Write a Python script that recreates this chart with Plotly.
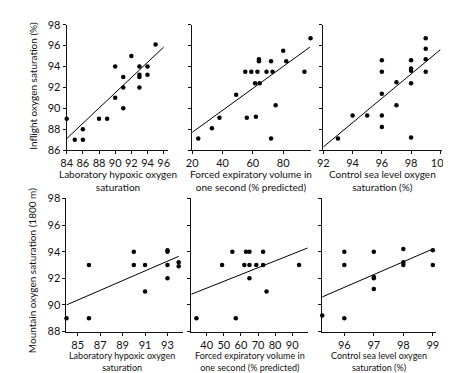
import plotly.graph_objects as go

# ---- data ----
lab_top = [84, 85, 86, 86, 88, 89, 90, 90, 91, 91, 91, 92, 93, 93, 93, 93, 94, 94, 95]
inflight_lab = [89, 87, 88, 87, 89, 89, 94, 91, 93, 92, 90, 95, 94, 93.2, 93, 92, 94, 93.2, 96.1]

fev_top = [24, 33, 38, 49, 55, 56, 59, 61.5, 62, 63, 64, 64, 64.5, 69, 72, 72, 73, 75, 80, 82, 94, 98]
inflight_fev = [87.1, 88.1, 89.1, 91.3, 93.5, 89.1, 93.5, 92.4, 89.2, 93.5, 94.7, 94.5, 92.4,
                93.5, 94.5, 87.1, 93.5, 90.3, 95.5, 94.5, 93.5, 96.7]

sea_top = [93, 94, 95, 96, 96, 96, 96, 96, 97, 97, 98, 98, 98, 98, 98, 99, 99, 99, 99]
inflight_sea = [87.1, 89.3, 89.3, 94.6, 93.5, 91.4, 89.3, 88.2, 92.5, 90.3, 94.6, 93.8, 93.6,
                92.4, 87.2, 96.7, 95.7, 94.7, 93.5]

lab_bot = [84, 86, 86, 90, 90, 91, 91, 93, 93, 93, 93, 94, 94]
mountain_lab = [89, 93, 89, 94, 93, 93, 91, 94.1, 94, 93, 92, 93.2, 92.9]

fev_bot = [34, 49, 55, 57, 62, 63, 65, 65, 65, 69, 73, 73, 75, 94]
mountain_fev = [89, 93, 94, 89, 93, 94, 92, 94, 93, 93, 94, 93, 91, 93]

sea_bot = [95.25, 96, 96, 96, 97, 97, 97, 97, 98, 98, 98, 99, 99]
mountain_sea = [89.2, 89, 94, 93, 94, 92.1, 92, 91.2, 94.2, 93.2, 93, 94.1, 93]

fit_lab_top_x, fit_lab_top_y = [84, 96], [87.1, 95.85]
fit_fev_top_x, fit_fev_top_y = [20, 97.6], [87.7, 95.85]
fit_sea_top_x, fit_sea_top_y = [92, 100], [86.3, 95.6]
fit_lab_bot_x, fit_lab_bot_y = [84, 94], [90.0, 93.65]
fit_fev_bot_x, fit_fev_bot_y = [31, 99.5], [90.8, 94.3]
fit_sea_bot_x, fit_sea_bot_y = [95.25, 99], [90.6, 94.2]

x_titles = ["Laboratory hypoxic oxygen<br>saturation",
            "Forced expiratory volume in<br>one second (% predicted)",
            "Control sea level oxygen<br>saturation (%)"]
y_title_top = "Inflight oxygen saturation (%)"
y_title_bot = "Mountain oxygen saturation (1800 m)"

W, H = 451, 373
FONT = "Lato"
INK = "#111111"

def fx(p):
    return p / W

def fy(p):
    return 1 - p / H

panels = [
    (lab_top, inflight_lab, fit_lab_top_x, fit_lab_top_y, (54.5, 159), [84, 96.5], (10, 140), [86, 98],
     [84, 86, 88, 90, 92, 94, 96], True),
    (fev_top, inflight_fev, fit_fev_top_x, fit_fev_top_y, (184.3, 307.5), [20, 98.5], (10, 140), [86, 98],
     [20, 40, 60, 80], False),
    (sea_top, inflight_sea, fit_sea_top_x, fit_sea_top_y, (320, 442.5), [92, 100.1], (10, 140), [86, 98],
     [92, 94, 96, 98, 100], False),
    (lab_bot, mountain_lab, fit_lab_bot_x, fit_lab_bot_y, (54.3, 175), [84, 94.4], (190, 328), [88, 98],
     [85, 87, 89, 91, 93], True),
    (fev_bot, mountain_fev, fit_fev_bot_x, fit_fev_bot_y, (183.4, 303.7), [31, 99], (190, 328), [88, 98],
     [40, 50, 60, 70, 80, 90], False),
    (sea_bot, mountain_sea, fit_sea_bot_x, fit_sea_bot_y, (318.8, 436.3), [95.25, 99.1], (190, 328), [88, 98],
     [96, 97, 98, 99], False),
]

fig = go.Figure()
layout = {}
for i, (xs, ys, fxs, fys, xd, xr, yd, yr, xtv, ylab) in enumerate(panels):
    n = "" if i == 0 else str(i + 1)
    fig.add_trace(go.Scatter(x=fxs, y=fys, mode="lines", line=dict(color="black", width=1),
                             xaxis="x" + n, yaxis="y" + n, showlegend=False, hoverinfo="skip",
                             cliponaxis=False))
    fig.add_trace(go.Scatter(x=xs, y=ys, mode="markers", marker=dict(color="black", size=4.5),
                             xaxis="x" + n, yaxis="y" + n, showlegend=False, cliponaxis=False))
    layout["xaxis" + n] = dict(domain=[fx(xd[0]), fx(xd[1])], range=xr, anchor="y" + n,
                               tickmode="array", tickvals=xtv, ticks="outside", ticklen=3,
                               tickcolor=INK, showline=True, linecolor=INK, linewidth=1,
                               mirror=False, showgrid=False, zeroline=False,
                               tickfont=dict(family=FONT, size=11, color=INK))
    yt = list(range(int(yr[0]), int(yr[1]) + 1, 2))
    layout["yaxis" + n] = dict(domain=[fy(yd[1]), fy(yd[0])], range=yr, anchor="x" + n,
                               tickmode="array", tickvals=yt, ticks="outside", ticklen=3,
                               tickcolor=INK, showline=True, linecolor=INK, linewidth=1,
                               mirror=False, showgrid=False, zeroline=False, showticklabels=ylab,
                               tickfont=dict(family=FONT, size=11, color=INK))

annotations = []
title_pos = [(108, 157, 10), (245, 157, 10), (381, 157, 10),
             (112, 346, 9), (244, 346, 9), (378, 346, 9)]
for i, (cx, ty, fs) in enumerate(title_pos):
    annotations.append(dict(text=x_titles[i % 3], x=fx(cx), y=fy(ty), xref="paper", yref="paper",
                            xanchor="center", yanchor="top", showarrow=False, align="center",
                            borderpad=0, font=dict(family=FONT, size=fs, color=INK)))
annotations.append(dict(text=y_title_top, x=fx(20), y=fy(73), xref="paper", yref="paper",
                        xanchor="center", yanchor="middle", textangle=-90, showarrow=False,
                        font=dict(family=FONT, size=10, color=INK)))
annotations.append(dict(text=y_title_bot, x=fx(18), y=fy(265), xref="paper", yref="paper",
                        xanchor="center", yanchor="middle", textangle=-90, showarrow=False,
                        font=dict(family=FONT, size=10, color=INK)))

fig.update_layout(width=W, height=H, margin=dict(l=0, r=0, t=0, b=0),
                  paper_bgcolor="white", plot_bgcolor="white",
                  annotations=annotations, **layout)
fig.write_html("out.html")
